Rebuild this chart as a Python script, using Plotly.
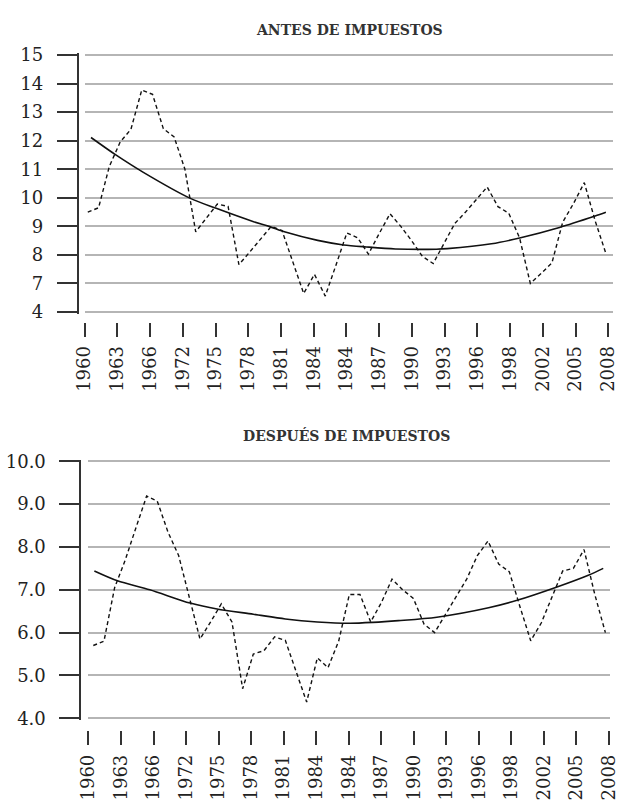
import plotly.graph_objects as go

W, H = 627, 805

# ---------------- data ----------------
tick_labels = ["1960", "1963", "1966", "1972", "1975", "1978", "1981", "1984", "1984",
               "1987", "1990", "1993", "1996", "1998", "2002", "2005", "2008"]

period = list(range(49))  # yearly observations, 1960 .. 2008

antes = [9.50, 9.65, 11.10, 11.95, 12.40, 13.77, 13.62, 12.42, 12.13, 11.00,
         8.81, 9.30, 9.78, 9.70, 7.66, 8.10, 8.55, 9.00, 8.85, 7.75,
         6.65, 7.32, 6.56, 7.65, 8.77, 8.60, 8.03, 8.75, 9.44, 9.00,
         8.50, 7.95, 7.70, 8.40, 9.10, 9.50, 9.95, 10.38, 9.69, 9.46,
         8.60, 7.00, 7.35, 7.72, 9.15, 9.80, 10.53, 9.20, 8.05]

despues = [5.70, 5.80, 7.05, 7.70, 8.45, 9.19, 9.07, 8.35, 7.80, 6.80,
           5.85, 6.25, 6.67, 6.25, 4.69, 5.50, 5.58, 5.90, 5.82, 5.10,
           4.38, 5.41, 5.18, 5.80, 6.89, 6.89, 6.25, 6.70, 7.25, 7.00,
           6.80, 6.20, 6.00, 6.42, 6.85, 7.25, 7.80, 8.14, 7.60, 7.42,
           6.60, 5.81, 6.23, 6.85, 7.44, 7.50, 7.94, 6.90, 6.00]

trend_antes_x = [0.3, 2.6, 5.15, 9.5, 11.9, 15.3, 16.8, 18.3, 21.3, 23.7,
                 25.8, 28.5, 32.3, 33.3, 37.4, 40.1, 43.7, 47.0, 48.0]
trend_antes_y = [12.11, 11.50, 10.89, 9.98, 9.63, 9.17, 9.00, 8.80, 8.51, 8.35,
                 8.28, 8.21, 8.20, 8.22, 8.39, 8.60, 8.96, 9.36, 9.49]

trend_despues_x = [0.1, 2.27, 5.3, 9.07, 11.6, 15.0, 18.0, 21.0, 24.05, 26.2,
                   28.6, 32.2, 37.05, 39.8, 43.4, 46.4, 47.8]
trend_despues_y = [7.44, 7.21, 7.00, 6.69, 6.55, 6.43, 6.32, 6.25, 6.22, 6.24,
                   6.28, 6.36, 6.58, 6.76, 7.06, 7.34, 7.50]

y1_vals = [6, 7, 8, 9, 10, 11, 12, 13, 14, 15]
y1_text = ["4", "7", "8", "9", "10", "11", "12", "13", "14", "15"]
y2_vals = [4, 5, 6, 7, 8, 9, 10]
y2_text = ["4.0", "5.0", "6.0", "7.0", "8.0", "9.0", "10.0"]

title_top = "ANTES DE IMPUESTOS"
title_bot = "DESPUÉS DE IMPUESTOS"

# ---------------- geometry helpers ----------------
FONT = "DejaVu Serif"
INK = "#222222"
GRID = "#b5b5b5"


def px_x(p):
    return p / W


def px_y(p):
    return (H - p) / H


def x_setup(first_px, step_px, left_px, right_px, tick_first_px, tick_last_px):
    to_idx = lambda p: (p - first_px) / step_px
    rng = [to_idx(left_px), to_idx(right_px)]
    t0, t1 = to_idx(tick_first_px), to_idx(tick_last_px)
    n = len(tick_labels)
    tv = [t0 + (t1 - t0) * k / (n - 1) for k in range(n)]
    return rng, tv


def y_setup(vlo, vhi, px_lo, px_hi, pad):
    ppu = (px_lo - px_hi) / (vhi - vlo)
    rng = [vlo - pad, vhi + pad]
    dom = [px_y(px_lo + pad * ppu), px_y(px_hi - pad * ppu)]
    return rng, dom


xr1, xt1 = x_setup(79.3, 11.15, 76, 622, 76, 617)
xr2, xt2 = x_setup(85.0, 11.02, 80, 618.3, 80, 617.6)
yr1, yd1 = y_setup(6, 15, 310, 47, 0.06)
yr2, yd2 = y_setup(4, 10, 725.5, 462.7, 0.04)

fig = go.Figure()

dash_line = dict(color="#111111", width=1.4, dash="4px,3px")
solid_line = dict(color="#111111", width=1.6, shape="spline", smoothing=0.8)

fig.add_trace(go.Scatter(x=period, y=antes, mode="lines", line=dash_line,
                         xaxis="x", yaxis="y", showlegend=False, hoverinfo="skip"))
fig.add_trace(go.Scatter(x=trend_antes_x, y=trend_antes_y, mode="lines", line=solid_line,
                         xaxis="x", yaxis="y", showlegend=False, hoverinfo="skip"))
fig.add_trace(go.Scatter(x=period, y=despues, mode="lines", line=dash_line,
                         xaxis="x2", yaxis="y2", showlegend=False, hoverinfo="skip"))
fig.add_trace(go.Scatter(x=trend_despues_x, y=trend_despues_y, mode="lines", line=solid_line,
                         xaxis="x2", yaxis="y2", showlegend=False, hoverinfo="skip"))

xcommon = dict(showgrid=False, zeroline=False, showline=False, ticks="outside",
               ticklen=14, tickwidth=2, tickcolor="#333333", tickangle=-90,
               ticktext=tick_labels, tickmode="array", anchor="free",
               ticklabelstandoff=2,
               tickfont=dict(family=FONT, size=18, color=INK), fixedrange=True)
ycommon = dict(showgrid=True, gridcolor=GRID, gridwidth=1.6, zeroline=False,
               showline=True, linecolor="#333333", linewidth=2, ticks="outside",
               ticklen=20, tickwidth=1.5, tickcolor="#333333", tickmode="array",
               anchor="free", ticklabelstandoff=10,
               tickfont=dict(family=FONT, size=18, color=INK),
               fixedrange=True)

fig.update_layout(
    width=W, height=H, autosize=False,
    margin=dict(l=0, r=0, t=0, b=0),
    paper_bgcolor="white", plot_bgcolor="white",
    xaxis=dict(xcommon, domain=[px_x(76), px_x(622)], range=xr1, tickvals=xt1,
               position=px_y(320)),
    yaxis=dict(ycommon, domain=yd1, range=yr1, tickvals=y1_vals, ticktext=y1_text,
               position=px_x(69)),
    xaxis2=dict(xcommon, domain=[px_x(80), px_x(618.3)], range=xr2, tickvals=xt2,
                position=px_y(738)),
    yaxis2=dict(ycommon, domain=yd2, range=yr2, tickvals=y2_vals, ticktext=y2_text,
                position=px_x(71.7)),
    annotations=[
        dict(text="<b>" + title_top + "</b>", x=px_x(349.5), y=px_y(21),
             xref="paper", yref="paper", showarrow=False, xanchor="center", yanchor="middle",
             font=dict(family=FONT, size=14, color="#333333")),
        dict(text="<b>" + title_bot + "</b>", x=px_x(346.7), y=px_y(436),
             xref="paper", yref="paper", showarrow=False, xanchor="center", yanchor="middle",
             font=dict(family=FONT, size=14, color="#333333")),
    ],
)

fig.write_html("out.html")
